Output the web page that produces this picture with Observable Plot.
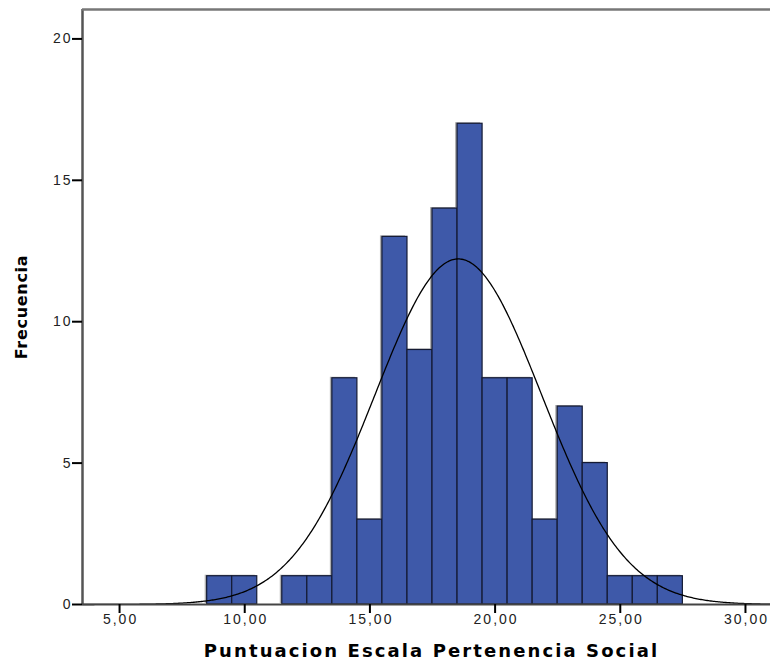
<!DOCTYPE html>
<html>
<head>
<meta charset="utf-8">
<script src="https://cdn.jsdelivr.net/npm/d3@7"></script>
<script src="https://cdn.jsdelivr.net/npm/@observablehq/plot@0.6"></script>
<style>
  html, body { margin: 0; padding: 0; background: #fff; }
  #chart svg { display: block; font-family: "Liberation Sans", Arial, sans-serif; }
</style>
</head>
<body>
<div id="chart"></div>
<script>
// Histogram bins (lower edges, width 1) and frequencies
const binLower = [8.5, 9.5, 11.5, 12.5, 13.5, 14.5, 15.5, 16.5, 17.5, 18.5, 19.5, 20.5, 21.5, 22.5, 23.5, 24.5, 25.5, 26.5];
const counts   = [1,   1,   1,    1,    8,    3,    13,   9,    14,   17,   8,    8,    3,    7,    5,    1,    1,    1];
const binWidth = 1;

// Normal curve parameters (SPSS overlay)
const meanVal = 18.53;
const sdVal = 3.33;
const nVal = 102;

// Axis ticks and labels
const xTicks = [5, 10, 15, 20, 25, 30];
const xTickLabels = ["5,00", "10,00", "15,00", "20,00", "25,00", "30,00"];
const yTicks = [0, 5, 10, 15, 20];
const yTickLabels = ["0", "5", "10", "15", "20"];
const xTitle = "Puntuacion Escala Pertenencia Social";
const yTitle = "Frecuencia";

const xDomain = [3.52, 31.0];
const yDomain = [0, 21.04];

const bars = binLower.map((b, i) => ({x1: b, x2: b + binWidth, y: counts[i]}));
const pdf = x => nVal * binWidth / (sdVal * Math.sqrt(2 * Math.PI)) * Math.exp(-0.5 * ((x - meanVal) / sdVal) ** 2);
const curve = d3.range(xDomain[0], xDomain[1] + 0.001, 0.05).map(x => ({x, y: pdf(x)}));

const chart = Plot.plot({
  width: 770,
  height: 665,
  marginLeft: 82,
  marginRight: 0,
  marginTop: 9,
  marginBottom: 61,
  style: {fontFamily: "'Liberation Sans', Arial, sans-serif", background: "#fff"},
  x: {domain: xDomain},
  y: {domain: yDomain},
  marks: [
    // bar shadows
    Plot.rectY(bars, {x1: "x1", x2: "x2", y: "y", fill: "#b0b0b0", dx: -2, dy: -1}),
    // bars
    Plot.rectY(bars, {x1: "x1", x2: "x2", y: "y", fill: "#3e59a9", stroke: "#141a33", strokeWidth: 1.2}),
    // normal curve
    Plot.line(curve, {x: "x", y: "y", stroke: "#000", strokeWidth: 1.3, curve: "linear"}),
    // frame lines
    Plot.ruleX([xDomain[0]], {stroke: "#555", strokeWidth: 2.5}),
    Plot.ruleY([0], {stroke: "#444", strokeWidth: 2}),
    Plot.ruleY([yDomain[1]], {stroke: "#777", strokeWidth: 2.5}),
    // axis ticks (labels drawn separately)
    Plot.axisY(yTicks, {tickSize: 10, tickFormat: () => "", stroke: "#000", strokeWidth: 2, label: null}),
    Plot.axisX(xTicks, {tickSize: 9, tickFormat: () => "", stroke: "#000", strokeWidth: 2, label: null}),
    // tick labels
    Plot.text(yTicks, {y: d => d, frameAnchor: "left", dx: -10, textAnchor: "end", text: (d, i) => yTickLabels[i], fontSize: 14, fill: "#222"}),
    Plot.text(xTicks, {x: d => d, frameAnchor: "bottom", dy: 19, dx: 1, text: (d, i) => xTickLabels[i], fontSize: 14, fill: "#222"}),
    // titles
    Plot.text([xTitle], {frameAnchor: "bottom", dy: 52, dx: 5, text: d => d, fontSize: 18, fontWeight: "bold", fontFamily: "'DejaVu Sans', sans-serif", fill: "#000"}),
    Plot.text([yTitle], {frameAnchor: "left", textAnchor: "middle", dx: -61, dy: 0, rotate: -90, text: d => d, fontSize: 16, fontWeight: "bold", fontFamily: "'DejaVu Sans', sans-serif", fill: "#000"})
  ]
});
const sel = d3.select(chart);
sel.selectAll("text").each(function () {
  const t = this.textContent;
  const s = d3.select(this);
  if (xTickLabels.includes(t)) s.style("letter-spacing", "2px");
  else if (yTickLabels.includes(t)) s.style("letter-spacing", "2px");
  else if (t === xTitle) s.style("letter-spacing", "2.1px");
  else if (t === yTitle) s.style("letter-spacing", "0.7px");
});
document.getElementById("chart").appendChild(chart);
</script>
</body>
</html>
